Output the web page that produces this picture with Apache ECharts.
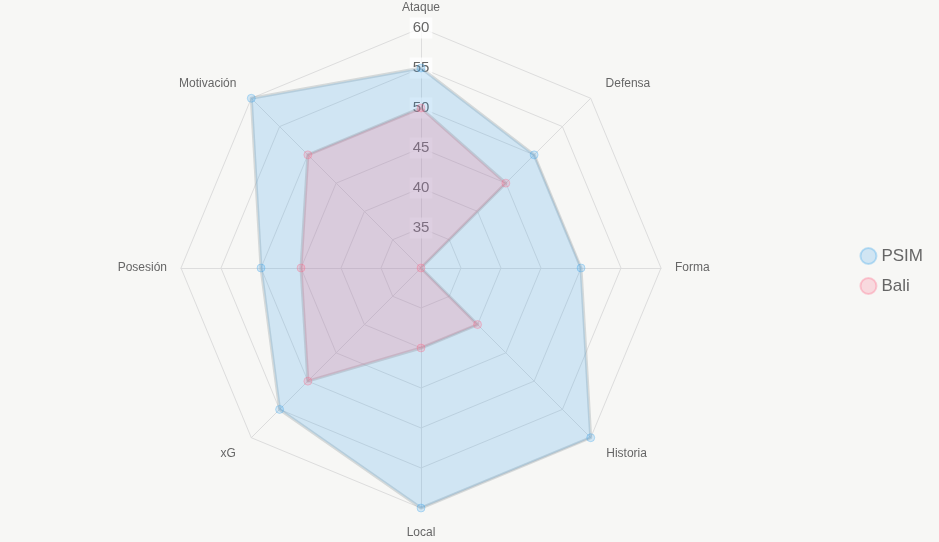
<!DOCTYPE html>
<html>
<head>
<meta charset="utf-8">
<script src="https://cdn.jsdelivr.net/npm/echarts@6/dist/echarts.min.js"></script>
<style>
  html, body { margin: 0; padding: 0; background: #f7f7f5; }
  #chart { width: 939px; height: 542px; }
</style>
</head>
<body>
<div id="chart"></div>
<script>
// indicator order is counterclockwise in echarts, starting at the top
const indicators = ['Ataque', 'Motivación', 'Posesión', 'xG', 'Local', 'Historia', 'Forma', 'Defensa']
const psimValues = [55, 60, 50, 55, 60, 60, 50, 50]
const baliValues = [50, 50, 45, 50, 40, 40, 30, 45]
const seriesNames = ['PSIM', 'Bali']
// distance of each name from the outer ring
const nameGaps = [14, 21, 14, 22, 19, 22, 14, 21]

const chart = echarts.init(document.getElementById('chart'))

const option = {
  backgroundColor: '#f7f7f5',
  textStyle: { fontFamily: 'Liberation Sans, Arial, sans-serif' },
  legend: {
    orient: 'vertical',
    right: 11,
    top: 'middle',
    icon: 'circle',
    itemWidth: 16,
    itemHeight: 16,
    itemGap: 12,
    textStyle: { color: '#666', fontSize: 17 },
    data: seriesNames
  },
  radar: {
    center: [421, 268],
    radius: 240,
    splitNumber: 6,
    shape: 'polygon',
    axisName: { color: '#666', fontSize: 12 },
    nameGap: 14,
    splitArea: { show: false },
    splitLine: { lineStyle: { color: '#ddd', width: 1 } },
    axisLine: { lineStyle: { color: '#ddd', width: 1 } },
    axisLabel: { show: false },
    indicator: indicators.map((name, i) => {
      const ind = { name: name, min: 30, max: 60, interval: 5, nameGap: nameGaps[i] }
      if (i === 0) {
        ind.axisLabel = {
          show: true,
          showMinLabel: false,
          color: '#666',
          fontSize: 15,
          margin: 0,
          align: 'center',
          verticalAlign: 'middle',
          backgroundColor: 'rgba(255,255,255,0.75)',
          padding: [5, 3, 1, 3]
        }
      }
      return ind
    })
  },
  series: [{
    type: 'radar',
    z: 2,
    symbol: 'circle',
    symbolSize: 8,
    data: [
      {
        name: seriesNames[0],
        value: psimValues,
        itemStyle: { color: 'rgba(54,162,235,0.2)', borderColor: 'rgba(54,162,235,0.3)', borderWidth: 1 },
        lineStyle: { color: 'rgba(150,160,165,0.35)', width: 3 },
        areaStyle: { color: 'rgba(54,162,235,0.2)', opacity: 1 }
      },
      {
        name: seriesNames[1],
        value: baliValues,
        itemStyle: { color: 'rgba(255,99,132,0.2)', borderColor: 'rgba(255,99,132,0.3)', borderWidth: 1 },
        lineStyle: { color: 'rgba(150,150,160,0.35)', width: 3 },
        areaStyle: { color: 'rgba(255,99,132,0.2)', opacity: 1 }
      }
    ]
  }]
}

chart.setOption(option)
</script>
</body>
</html>
